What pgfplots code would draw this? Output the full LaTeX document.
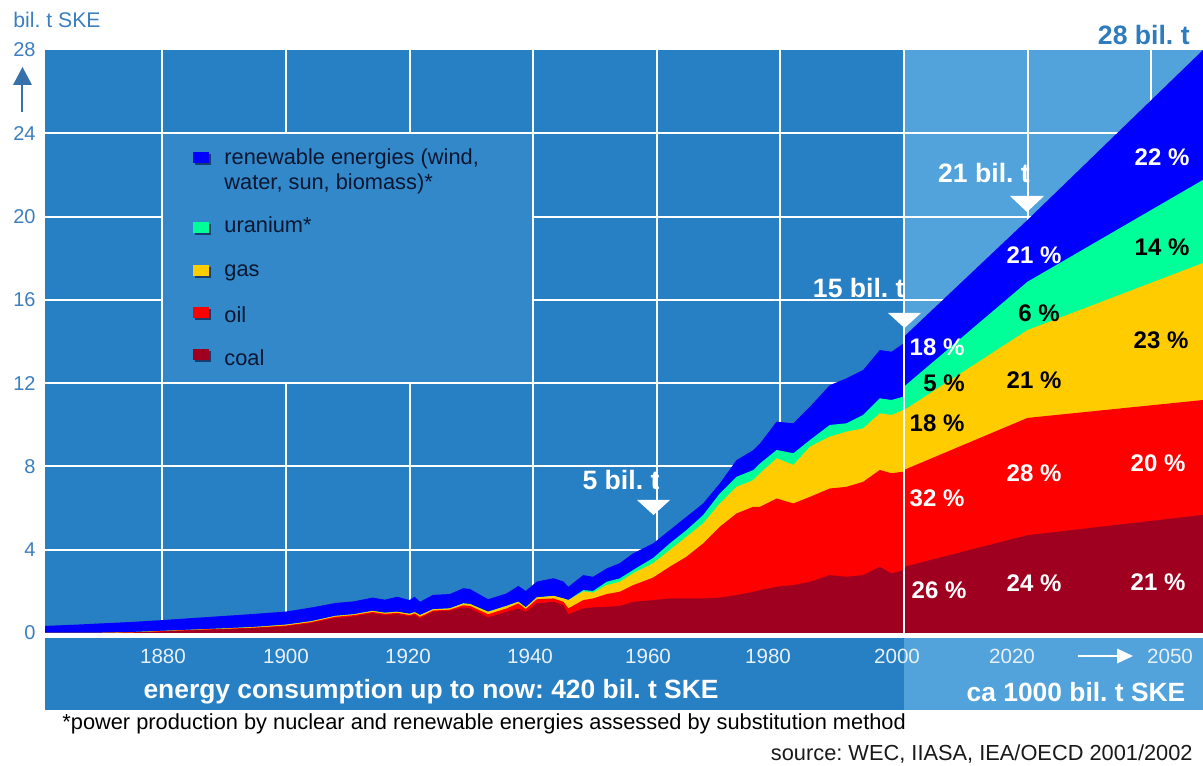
\documentclass[border=0pt]{standalone}
\usepackage{fontspec}
\setmainfont{Liberation Sans}
\usepackage{pgfplots}
\pgfplotsset{compat=1.18}
\usepackage{pgfplotstable}
\frenchspacing

\definecolor{bgdark}{RGB}{40,128,196}
\definecolor{bglight}{RGB}{82,163,219}
\definecolor{legbox}{RGB}{50,136,201}
\definecolor{tickblue}{RGB}{60,126,190}
\definecolor{titleblue}{RGB}{46,123,190}
\definecolor{legtext}{RGB}{12,22,48}
\definecolor{shadow}{RGB}{25,60,110}
\definecolor{cCoal}{RGB}{160,0,32}
\definecolor{cOil}{RGB}{255,0,0}
\definecolor{cGas}{RGB}{255,204,0}
\definecolor{cUran}{RGB}{0,255,153}
\definecolor{cRenew}{RGB}{0,0,255}
\definecolor{ticklab}{RGB}{232,240,248}

% cumulative boundaries: C = coal top, O = oil top, G = gas top, U = uranium top, T = total (renewables top)
\pgfplotstableread{
year   T     U     G     O     C
1861   0.34  0     0     0     0
1866   0.40  0     0     0     0
1870   0.46  0.01  0.01  0.01  0
1875   0.53  0.04  0.04  0.03  0.02
1880   0.62  0.10  0.10  0.09  0.07
1885   0.72  0.16  0.16  0.15  0.13
1890   0.82  0.22  0.22  0.20  0.18
1895   0.92  0.29  0.29  0.26  0.24
1900   1.03  0.40  0.40  0.36  0.32
1904   1.22  0.56  0.56  0.52  0.48
1908   1.44  0.82  0.82  0.78  0.72
1911   1.52  0.90  0.90  0.86  0.80
1914   1.70  1.06  1.06  1.01  0.95
1916   1.60  0.97  0.97  0.92  0.86
1918   1.74  1.02  1.02  0.97  0.91
1920   1.58  0.92  0.92  0.86  0.80
1920.8 1.74  1.00  1.00  0.94  0.88
1921.7 1.50  0.86  0.86  0.78  0.70
1923.8 1.83  1.14  1.14  1.08  1.02
1926.5 1.87  1.18  1.18  1.12  1.07
1928.7 2.15  1.42  1.42  1.33  1.23
1929.8 2.11  1.39  1.39  1.30  1.18
1932.7 1.62  1.02  1.02  0.90  0.75
1935.7 1.90  1.30  1.30  1.18  1.02
1937.6 2.26  1.50  1.50  1.42  1.18
1938.8 2.02  1.23  1.23  1.15  1.02
1940.6 2.47  1.71  1.71  1.62  1.42
1943.3 2.63  1.78  1.78  1.66  1.50
1944.9 2.47  1.66  1.66  1.50  1.34
1945.7 2.22  1.58  1.58  1.18  0.90
1948.1 2.78  2.06  2.00  1.58  1.18
1949.7 2.70  2.02  1.94  1.66  1.23
1951.9 3.10  2.46  2.30  1.87  1.26
1954.0 3.35  2.62  2.46  1.98  1.30
1956.2 3.83  3.03  2.87  2.30  1.50
1959.4 4.30  3.60  3.35  2.66  1.58
1962.1 4.94  4.30  3.98  3.18  1.66
1964.8 5.58  4.94  4.62  3.66  1.66
1967.5 6.22  5.66  5.26  4.30  1.66
1970.2 7.18  6.70  6.22  5.10  1.70
1972.9 8.30  7.50  7.02  5.74  1.82
1975.6 8.78  7.82  7.34  6.06  1.98
1976.7 9.10  8.14  7.67  6.06  2.06
1979.4 10.15 8.79  8.39  6.46  2.22
1982.1 10.07 8.63  8.07  6.22  2.30
1984.8 10.87 9.27  8.95  6.54  2.46
1988.0 11.90 9.99  9.43  6.94  2.78
1990.7 12.23 10.07 9.67  7.02  2.70
1993.4 12.63 10.47 9.83  7.26  2.78
1996.1 13.59 11.27 10.55 7.83  3.18
1998.0 13.51 11.19 10.47 7.67  2.86
1999.9 13.90 11.35 10.71 7.75  3.02
2000.0 14.23 11.83 10.70 7.83  3.18
2020.0 19.84 16.87 14.55 10.33 4.70
2048.4 28.00 21.76 17.77 11.19 5.67
}\energy

\begin{document}
\begin{tikzpicture}
% backgrounds in pixel coordinates of the reference
\begin{scope}[x=0.5pt,y=-0.5pt,shift={(-22.5pt,316.5pt)}]
  \fill[bgdark] (45,50) rectangle (904,633);
  \fill[bglight] (904,50) rectangle (1203,633);
  \fill[white] (45,633) rectangle (1203,637.5);
  \fill[bgdark] (45,637.5) rectangle (904,710);
  \fill[bglight] (904,637.5) rectangle (1203,710);
\end{scope}

\begin{axis}[
  at={(0,0)}, anchor=south west,
  scale only axis, width=579pt, height=291.5pt,
  xmin=1861, xmax=2048.4, ymin=0, ymax=28,
  clip=false,
  axis line style={draw=none},
  major tick length=0pt,
  xtick={1880,1900,...,2040}, xticklabels={},
  ytick={4,8,...,24},
  extra y ticks={0,28},
  extra y tick style={grid=none},
  grid=major,
  grid style={white, line width=1pt},
  /pgf/number format/assume math mode=true,
  yticklabel style={font=\fontsize{10}{12}\selectfont, text=tickblue, inner sep=0pt, xshift=-4.5pt},
]
\fill[legbox] ([xshift=0.5pt,yshift=0.5pt]axis cs:1880,12) rectangle ([xshift=-0.5pt,yshift=-0.5pt]axis cs:1940,24);
\addplot[fill=cRenew, draw=none] table[x=year,y=T]{\energy} \closedcycle;
\addplot[fill=cUran, draw=none] table[x=year,y=U]{\energy} \closedcycle;
\addplot[fill=cGas, draw=none] table[x=year,y=G]{\energy} \closedcycle;
\addplot[fill=cOil, draw=none] table[x=year,y=O]{\energy} \closedcycle;
\addplot[fill=cCoal, draw=none] table[x=year,y=C]{\energy} \closedcycle;
\draw[white, line width=1pt] (axis cs:2000,0) -- (axis cs:2000,28);
\end{axis}

% annotations in pixel coordinates
\begin{scope}[x=0.5pt,y=-0.5pt,shift={(-22.5pt,316.5pt)}]
  % y axis title and arrow
  \node[anchor=west, inner sep=0pt, text=tickblue, font=\fontsize{10.6}{12}\selectfont] at (13,20) {bil. t SKE};
  \draw[color=tickblue!90!black, line width=1pt] (22.5,112) -- (22.5,84);
  \fill[tickblue!90!black] (13,85) -- (32,85) -- (22.5,67) -- cycle;
  \node[anchor=east, inner sep=0pt, text=titleblue, font=\bfseries\fontsize{13.3}{15}\selectfont] at (1190,35) {28 bil. t};

  % legend
  \foreach \yy/\cc in {158/cRenew, 228/cUran, 271/cGas, 313/cOil, 355/cCoal}{
    \fill[shadow] (195,\yy-4) rectangle (211,\yy+7);
    \fill[\cc] (193,\yy-6) rectangle (209,\yy+5);
  }
  \begin{scope}[every node/.style={anchor=base west, inner sep=0pt, text=legtext, font=\fontsize{10.9}{12.5}\selectfont}]
    \node at (224,165) {renewable energies (wind,};
    \node at (224,190) {water, sun, biomass)*};
    \node at (224,233) {uranium*};
    \node at (224,277) {gas};
    \node at (224,323) {oil};
    \node at (224,366) {coal};
  \end{scope}

  % markers
  \fill[white] (637,500) -- (670,500) -- (653.5,515) -- cycle;
  \fill[white] (888,313) -- (921,313) -- (904.5,328) -- cycle;
  \fill[white] (1010,196) -- (1044,196) -- (1027,212) -- cycle;
  \begin{scope}[every node/.style={inner sep=0pt, text=white, font=\bfseries\fontsize{13.3}{15}\selectfont}]
    \node at (621,480) {5 bil. t};
    \node[anchor=east] at (905,288) {15 bil. t};
    \node at (984,173) {21 bil. t};
  \end{scope}

  % percentages
  \begin{scope}[every node/.style={inner sep=0pt, font=\bfseries\fontsize{12}{14}\selectfont}]
    \node[text=white] at (937,347) {18 \%};
    \node[text=black] at (944,383) {5 \%};
    \node[text=black] at (937,423) {18 \%};
    \node[text=white] at (937,498) {32 \%};
    \node[text=white] at (939,590) {26 \%};
    \node[text=white] at (1034,255) {21 \%};
    \node[text=black] at (1039,313) {6 \%};
    \node[text=black] at (1034,380) {21 \%};
    \node[text=white] at (1034,473) {28 \%};
    \node[text=white] at (1034,583) {24 \%};
    \node[text=white] at (1162,157) {22 \%};
    \node[text=black] at (1162,247) {14 \%};
    \node[text=black] at (1161,340) {23 \%};
    \node[text=white] at (1158,463) {20 \%};
    \node[text=white] at (1158,582) {21 \%};
  \end{scope}

  % x tick labels in the band
  \begin{scope}[every node/.style={inner sep=0pt, text=ticklab, font=\fontsize{10.3}{12}\selectfont}]
    \node at (163,656) {1880};
    \node at (286,656) {1900};
    \node at (408,656) {1920};
    \node at (530,656) {1940};
    \node at (648,656) {1960};
    \node at (768,656) {1980};
    \node at (897,656) {2000};
    \node at (1012,656) {2020};
    \node at (1170,656) {2050};
  \end{scope}
  \draw[white, line width=0.8pt] (1078,656) -- (1118,656);
  \fill[white] (1117,648.5) -- (1117,663.5) -- (1133,656) -- cycle;

  % band texts
  \node[inner sep=0pt, text=white, font=\bfseries\fontsize{13.2}{15}\selectfont] at (431,692) {energy consumption up to now: 420 bil. t SKE};
  \node[inner sep=0pt, text=white, font=\bfseries\fontsize{13.2}{15}\selectfont] at (1076,692) {ca 1000 bil. t SKE};

  % footnotes
  \node[anchor=west, inner sep=0pt, text=black, font=\fontsize{10.9}{12}\selectfont] at (62,724) {*power production by nuclear and renewable energies assessed by substitution method};
  \node[anchor=east, inner sep=0pt, text=black!90, font=\fontsize{10.9}{12}\selectfont] at (1193,754) {source: WEC, IIASA, IEA/OECD 2001/2002};

  \pgfresetboundingbox
  \path[use as bounding box] (0,0) rectangle (1203,765);
\end{scope}
\end{tikzpicture}
\end{document}
